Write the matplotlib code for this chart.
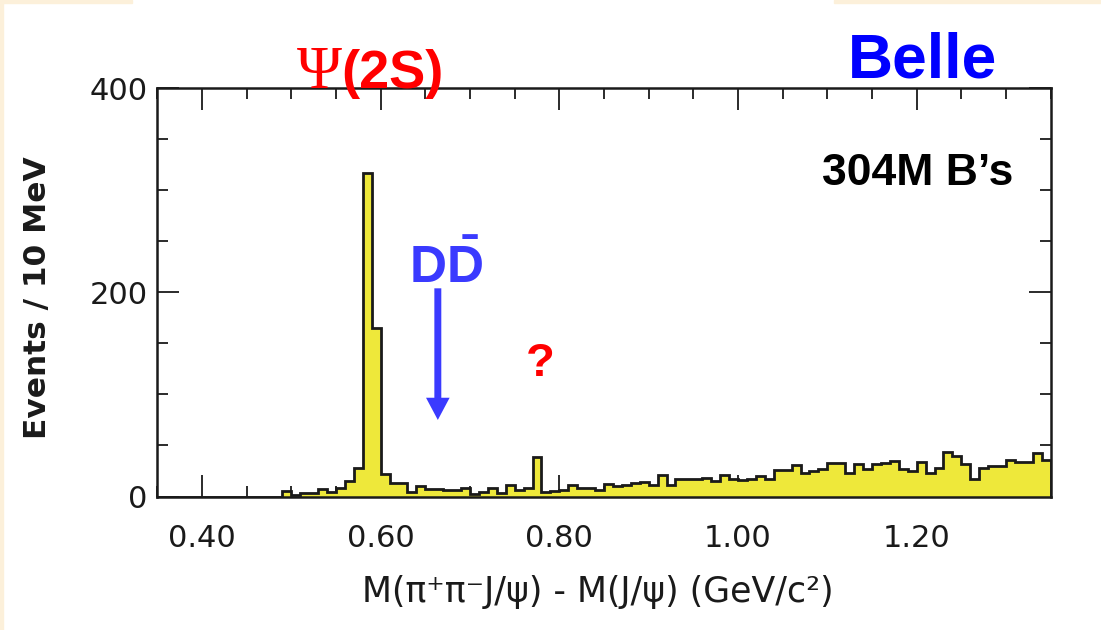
import numpy as np
import matplotlib
matplotlib.use("Agg")
import matplotlib.pyplot as plt
from matplotlib.patches import Rectangle
from matplotlib.ticker import MultipleLocator, FormatStrFormatter

plt.rcParams['mathtext.fontset'] = 'custom'
plt.rcParams['mathtext.rm'] = 'Liberation Sans'
plt.rcParams['mathtext.bf'] = 'Liberation Sans:bold'
plt.rcParams['mathtext.it'] = 'Liberation Sans:italic'

# ---------------- data ----------------
bin_start = 0.35          # GeV/c^2, left edge of first bin
bin_width = 0.01          # 10 MeV bins
counts = [
    0, 0, 0, 0, 0, 0, 0, 0, 0, 0,          # 0.35-0.44
    0, 0, 0, 0, 5, 1, 3, 3, 7, 4,          # 0.45-0.54
    8, 15, 28, 317, 165, 22, 13, 13, 4, 10,  # 0.55-0.64
    7, 7, 6, 6, 8, 2, 4, 8, 3, 11,         # 0.65-0.74
    6, 8, 39, 4, 5, 6, 11, 8, 8, 6,        # 0.75-0.84
    12, 10, 11, 13, 14, 11, 21, 11, 17, 17,  # 0.85-0.94
    17, 18, 15, 21, 17, 16, 17, 20, 17, 26,  # 0.95-1.04
    26, 31, 23, 25, 27, 33, 33, 23, 32, 27,  # 1.05-1.14
    32, 33, 35, 27, 25, 34, 23, 28, 44, 40,  # 1.15-1.24
    32, 17, 28, 30, 30, 36, 34, 34, 43, 36,  # 1.25-1.34
]
x_ticks = [0.40, 0.60, 0.80, 1.00, 1.20]
y_ticks = [0, 200, 400]
x_range = (0.35, 1.35)
y_range = (0, 400)

peak_label = "(2S)"
dd_arrow_x = 0.664
dd_arrow_y = (204, 75)
question_pos = (0.779, 118)

edges = bin_start + bin_width * np.arange(len(counts) + 1)

# ---------------- figure ----------------
W, H = 1101, 630
fig = plt.figure(figsize=(W / 100, H / 100), dpi=100, facecolor='white')

# slide background strips (cream)
cream = '#FCF0DA'
fig.patches.append(Rectangle((0, 0), 3 / W, 1, transform=fig.transFigure,
                             color=cream, zorder=0))
fig.patches.append(Rectangle((0, 1 - 3 / H), 132 / W, 3 / H, transform=fig.transFigure,
                             color=cream, zorder=0))
fig.patches.append(Rectangle((834 / W, 1 - 3 / H), 1 - 834 / W, 3 / H,
                             transform=fig.transFigure, color=cream, zorder=0))

ax_l, ax_r, ax_t, ax_b = 157.3, 1050.7, 88.3, 496.5
ax = fig.add_axes([ax_l / W, 1 - ax_b / H, (ax_r - ax_l) / W, (ax_b - ax_t) / H])
ax.set_facecolor('white')

ax.stairs(counts, edges, fill=True, color='#EEE83A', zorder=2)
ax.stairs(counts, edges, fill=False, color='#1a1a1a', linewidth=2.0, zorder=3)

ax.set_xlim(*x_range)
ax.set_ylim(*y_range)

ax.set_xticks(x_ticks)
ax.xaxis.set_major_formatter(FormatStrFormatter('%.2f'))
ax.xaxis.set_minor_locator(MultipleLocator(0.05))
ax.set_yticks(y_ticks)
ax.yaxis.set_minor_locator(MultipleLocator(50))

for sp in ax.spines.values():
    sp.set_linewidth(1.8)
    sp.set_color('#1a1a1a')

ax.tick_params(which='both', direction='in', top=True, right=True, color='#1a1a1a')
ax.tick_params(which='major', length=16, width=1.3)
ax.tick_params(which='minor', length=8, width=1.3)
ax.tick_params(axis='x', which='major', pad=20, labelsize=22)
ax.tick_params(axis='y', which='major', pad=7, labelsize=22)
for lab in ax.get_xticklabels() + ax.get_yticklabels():
    lab.set_family('DejaVu Sans')
    lab.set_color('#1a1a1a')

# axis labels
fig.text(38 / W, 1 - 298 / H, 'Events / 10 MeV', rotation=90, ha='center', va='center',
         family='DejaVu Sans', fontweight='bold', fontsize=22.5, color='#1a1a1a')
fig.text(598 / W, 1 - 592 / H, 'M(π⁺π⁻J/ψ) - M(J/ψ) (GeV/c²)', ha='center', va='center',
         family='DejaVu Sans', fontsize=25, color='#1a1a1a')

# overlays
fig.text(342 / W, 1 - 88 / H, 'Ψ', ha='right', va='baseline', family='Liberation Serif',
         fontsize=44, color='#FF0000')
fig.text(341 / W, 1 - 88 / H, peak_label, ha='left', va='baseline', family='Liberation Sans',
         fontweight='bold', fontsize=39, color='#FF0000')
fig.text(922 / W, 1 - 78 / H, 'Belle', ha='center', va='baseline', family='Liberation Sans',
         fontweight='bold', fontsize=45, color='#0000FF')
fig.text(918 / W, 1 - 185 / H, '304M B’s', ha='center', va='baseline', family='Liberation Sans',
         fontweight='bold', fontsize=32, color='black')
fig.text(446 / W, 1 - 283 / H, r'$\mathbf{D\bar{D}}$', ha='center', va='baseline',
         fontsize=37, color='#3A3AFF')

ax.annotate('', xy=(dd_arrow_x, dd_arrow_y[1]), xytext=(dd_arrow_x, dd_arrow_y[0]),
            arrowprops=dict(arrowstyle='simple,head_length=0.8,head_width=0.85,tail_width=0.25',
                            mutation_scale=20, color='#3A3AFF', lw=0,
                            shrinkA=0, shrinkB=0),
            annotation_clip=False, zorder=5)
ax.text(question_pos[0], question_pos[1], '?', ha='center', va='baseline',
        family='Liberation Sans', fontweight='bold', fontsize=34, color='#FF0000')

fig.savefig('out.png', dpi=100, facecolor=fig.get_facecolor())
